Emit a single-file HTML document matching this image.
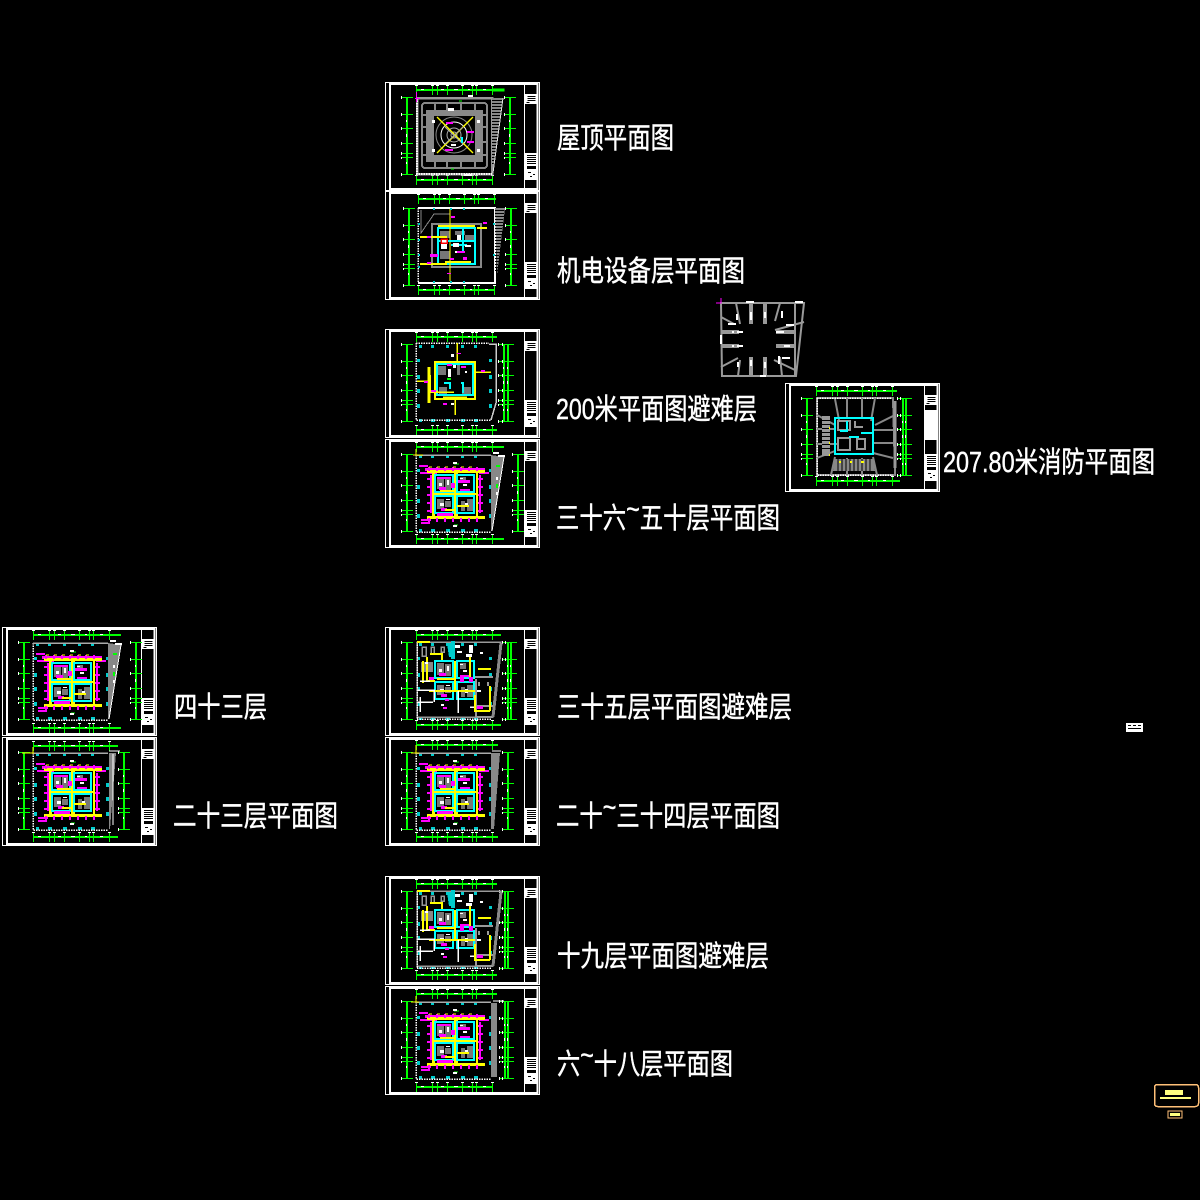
<!DOCTYPE html>
<html><head><meta charset="utf-8"><title>Plans</title>
<style>html,body{margin:0;padding:0;background:#000;width:1200px;height:1200px;overflow:hidden}
svg{display:block}
text{fill:#fff;stroke:#fff;stroke-width:.45px;font-family:"Liberation Sans","WenQuanYi Zen Hei","Noto Sans CJK SC",sans-serif;font-size:29px}</style></head>
<body>
<svg width="1200" height="1200" viewBox="0 0 1200 1200" xmlns="http://www.w3.org/2000/svg" shape-rendering="crispEdges">
<defs>
<g id="frame">
 <rect x=".5" y=".5" width="154" height="108" fill="none" stroke="#fff"/>
 <rect x="5" y="2" width="147.5" height="105" fill="none" stroke="#fff" stroke-width="1.6"/>
 <path d="M139.5 2V107" stroke="#fff"/>
 <rect x="152" y="2" width="1.5" height="105" fill="#fff"/>
 <rect x="140" y="12" width="12" height="10" fill="#fff"/>
 <path d="M142.5 14.5h8M142.5 16.5h8M142.5 18.5h8M141.5 20.5h3" stroke="#000"/>
 <rect x="140" y="71" width="12" height="27" fill="#fff"/>
 <path d="M142 73.5h9M142 75.5h9M142 77.5h9M142 79.5h9M142 81.5h9" stroke="#000"/>
 <rect x="142" y="84" width="9" height="3" fill="#000"/>
 <path d="M143 90.5h3M148 92.5h2M145 94.5h2" stroke="#000"/>
</g>
<g id="dh" fill="none">
 <rect x="31" y="0" width="76" height="2" fill="#0f0"/>
 <path d="M31.5-4V6M47.5-4V6M52.5-4V6M62.5-4V6M77.5-4V6M87.5-4V6M91.5-4V6M107.5-4V6" stroke="#0f0"/>
 <path d="M30-3.5h3M46-3.5h3M51-3.5h3M61-3.5h3M76-3.5h3M86-3.5h3M90-3.5h3M106-3.5h3M36 .5h3M56 .5h3M69 .5h4M83 .5h2M98 .5h3" stroke="#fff"/>
</g>
<g id="dv" fill="none">
 <rect x="0" y="15" width="2" height="77" fill="#0f0"/>
 <path d="M-4 15.5H7M-4 32.5H7M-4 46.5H7M-4 61.5H7M-4 71.5H7M-4 75.5H7M-4 92.5H7" stroke="#0f0"/>
 <path d="M-4.5 14v3M-4.5 31v3M-4.5 45v3M-4.5 60v3M-4.5 70v3M-4.5 75v2M-4.5 91v3M.5 52v3M.5 38v2M.5 80v2" stroke="#fff"/>
</g>
<g id="cols" fill="#0cc">
 <rect x="34" y="16" width="3" height="3"/><rect x="46" y="16" width="3" height="3"/><rect x="61" y="16" width="3" height="3"/><rect x="76" y="16" width="3" height="3"/><rect x="89" y="16" width="3" height="3"/>
 <rect x="34" y="90" width="3" height="3"/><rect x="46" y="90" width="4" height="3"/><rect x="61" y="90" width="4" height="3"/><rect x="76" y="90" width="4" height="3"/><rect x="89" y="90" width="4" height="3"/>
 <rect x="32" y="30" width="3" height="3"/><rect x="32" y="46" width="3" height="4"/><rect x="32" y="60" width="3" height="4"/><rect x="32" y="75" width="3" height="4"/>
 <rect x="104" y="30" width="3" height="3"/><rect x="104" y="46" width="3" height="4"/><rect x="104" y="60" width="3" height="4"/><rect x="104" y="75" width="3" height="4"/>
</g>
<g id="rooms">
 <path d="M52 38h7v12h-7zM52 60h7v10h-7zM60 39h6v12h-6zM75 38h6v6h-6zM76 62h4v10h-4zM82 60h6v12h-6zM60 62h6v6h-6z" fill="#777"/>
 <path d="M50 36h18v17H50zM72 36h17v17H72zM50 57h18v17H50zM72 57h17v17H72z" fill="none" stroke="#0ff" stroke-width="2"/>
 <path d="M54 44h3v3h-3zM62 41h2v5h-2zM78 45h4v2h-4zM55 64h4v3h-4zM80 64h3v4h-3zM75 39h3v1h-3zM61 60h4v1h-4z" fill="#fff"/>
 <path d="M54 48h7v3h-7zM56 69h6v3h-6zM75 50h10v2h-10z" fill="#f0f"/>
</g>
<g id="typ">
 <use href="#cols"/>
 <path d="M31 16V93H106" fill="none" stroke="#fff" stroke-width="1.5" stroke-dasharray="1.5 1"/>
 <path d="M31 16H106" stroke="#aaa" stroke-width="1.5" fill="none"/>
 <rect x="40" y="29" width="60" height="3" fill="#f0f"/>
 <path d="M34 27h9M35 34h17M94 34h10M36 81h9v-3M36 84h9" stroke="#f0f" fill="none" stroke-width="2"/>
 <rect x="42" y="31" width="58" height="3" fill="#ff0"/><rect x="42" y="77" width="58" height="3" fill="#ff0"/>
 <rect x="47" y="33" width="3" height="45" fill="#ff0"/><rect x="91" y="33" width="2" height="45" fill="#ff0"/>
 <rect x="69" y="33" width="4" height="45" fill="#ff0"/>
 <rect x="48" y="54" width="44" height="2" fill="#ff0"/>
 <rect x="45" y="36" width="2" height="38" fill="#f0f"/><rect x="94" y="36" width="2" height="38" fill="#f0f"/>
 <path d="M42 40h5M42 48h5M42 56h5M42 64h5M42 72h5M93 40h5M93 48h5M93 56h5M93 64h5M93 72h5M44 28v4M52 28v4M60 28v4M68 28v4M76 28v4M84 28v4M92 28v4M44 79v4M52 79v4M60 79v4M68 79v4M76 79v4M84 79v4M92 79v4" stroke="#f0f" stroke-width="2"/>
 <path d="M44 28h3M52 28h3M60 28h3M68 28h3M76 28h3M84 28h3" stroke="#ff0"/>
 <use href="#rooms"/>
 <path d="M52 74h16v3H52zM73 41h12v3H73zM52 38h14v2H52zM66 44h4v5h-4z" fill="#f0f"/>
 <path d="M72 66h12v2H72zM55 51h14v2H55zM60 70h9v2h-9z" fill="#ff0"/>
 <path d="M69 25h5M69 86h4" stroke="#0f0"/><path d="M68 24h4M68 87h4" stroke="#fff" stroke-width="2"/>
</g>
<g id="roof">
 <path d="M32 16H107V92H32Z" fill="none" stroke="#999" stroke-width="2.5"/>
 <path d="M32 16V92H107" fill="none" stroke="#fff" stroke-width="2" stroke-dasharray="1.5 1"/>
 <path d="M107 16L118 16L108 91Z" fill="#888"/>
 <path d="M107 18.5h10M107 21.5h10M107 24.5h10M107 27.5h9M107 30.5h9M107 33.5h9M107 36.5h8M107 39.5h8M107 42.5h8M107 45.5h7M107 48.5h7M107 51.5h7M107 54.5h6M107 57.5h6M107 60.5h6M107 63.5h5M107 66.5h5M107 69.5h5M107 72.5h4M107 75.5h4M107 78.5h3M107 81.5h3" stroke="#000"/>
 <path d="M118 16L108 91" stroke="#ddd"/>
 <rect x="37" y="21" width="65" height="65" rx="3" fill="none" stroke="#888" stroke-width="2"/>
 <path d="M41 28H98V80H41ZM49 34V73H90V34Z" fill="#888" fill-rule="evenodd"/>
 <path d="M37 33h9M37 45h9M37 60h9M37 73h9M93 33h9M93 45h9M93 60h9M93 73h9M50 21v7M62 21v7M76 21v7M90 21v7M50 80v6M62 80v6M76 80v6M90 80v6" stroke="#888" stroke-width="2"/>
 <g shape-rendering="auto" fill="none">
 <circle cx="69" cy="53" r="18" stroke="#888"/><circle cx="69" cy="53" r="13" stroke="#fff"/><circle cx="69" cy="53" r="7" stroke="#aaa"/><circle cx="69" cy="53" r="3" stroke="#aaa"/>
 <path d="M52 35L88 71M88 35L52 71" stroke="#ff0" stroke-width="1.4"/><path d="M60 45L78 62M78 45L60 62" stroke="#aaa"/></g>
 <path d="M61 40h7v2h-7zM82 49h7v2h-7zM82 59h7v2h-7zM60 67h8v2h-8z" fill="#f0f"/><rect x="76" y="55" width="2" height="6" fill="#0ff"/>
 <path d="M63 26h6v3h-6zM47 38h3v3h-3zM92 38h3v3h-3zM47 67h3v3h-3zM92 67h3v3h-3zM66 62h5v2h-5zM79 92h8v2h-8zM83 13h5v2h-5z" fill="#fff"/>
 <path d="M30 16.5h5M31.5 10v10" stroke="#f0f"/>
 <path d="M74 19h3M66 87h3" stroke="#0f0"/>
</g>
<g id="mech">
 <path d="M33 17H110V92H33" fill="none" stroke="#fff" stroke-width="2"/>
 <path d="M33 17V92" stroke="#fff" stroke-dasharray="1.5 1" stroke-width="1.5"/>
 <path d="M36 19V42L49 23H65" fill="none" stroke="#888"/>
 <path d="M110 17H120L112 84Z" fill="#888"/>
 <path d="M110 19.5h9M110 22.5h9M110 25.5h9M110 28.5h8M110 31.5h8M110 34.5h8M110 37.5h7M110 40.5h7M110 43.5h7M110 46.5h6M110 49.5h6M110 52.5h6M110 55.5h5M110 58.5h5M110 61.5h5M110 64.5h4M110 67.5h4M110 70.5h4M110 73.5h3M110 76.5h3M110 79.5h3" stroke="#000"/>
 <rect x="47" y="33" width="49" height="43" fill="none" stroke="#888" stroke-width="2"/>
 <path d="M55 40h10v7H55zM70 40h10v4H70zM80 44h9v5h-9zM55 60h10v8H55z" fill="#777"/>
 <rect x="53" y="37" width="37" height="36" fill="none" stroke="#0ff" stroke-width="2"/>
 <path d="M65 18V90" stroke="#ff0"/>
 <path d="M53 35H90M35 46H62M35 73H62M92 37h10M60 71h26" stroke="#ff0" fill="none" stroke-width="2"/>
 <path d="M53 50H90M66 54H82M78 37V62" stroke="#0ff" stroke-width="2"/>
 <rect x="56" y="48" width="6" height="4" fill="#fff" stroke="#f00" stroke-width="1.5"/>
 <path d="M56 53h6v5h-6zM68 52h6v4h-6zM80 54h6v2h-6zM70 60h8v2h-8zM72 44h4v5h-4z" fill="#fff"/>
 <path d="M66 25h4v2h-4zM98 31h4v2h-4zM42 45h4v2h-4zM45 63h8v3h-8zM42 71h4v2h-4zM72 60h8v2h-8zM65 67h4v2h-4zM78 66h4v3h-4zM62 82h4v1h-4z" fill="#f0f"/>
 <path d="M33 33h2M33 49h2M33 64h2M33 76h2M108 33h2M108 64h2M48 18h2M65 18h2M78 18h2M48 91h2M65 91h2M78 91h2" stroke="#0cc" stroke-width="2"/>
</g>
<g id="c200">
 <use href="#cols"/>
 <path d="M31 14V91H106M31 14H104" fill="none" stroke="#fff" stroke-width="1.5" stroke-dasharray="1.5 1"/>
 <path d="M106 91L111 74V15H104" fill="none" stroke="#ccc" stroke-width="1.5"/>
 <path d="M53 37h8v9h-8zM72 36h3v10h-3zM54 58h8v8h-8zM77 58h9v8h-9z" fill="#777"/>
 <rect x="50" y="33" width="40" height="37" fill="none" stroke="#ff0" stroke-width="2"/>
 <rect x="52" y="35" width="36" height="31" fill="none" stroke="#0ff" stroke-width="2"/>
 <path d="M72 14V33M90 43h16M53 62H45V46M45 63h24" stroke="#ff0" fill="none" stroke-width="1.5"/>
 <path d="M44 38v36" stroke="#ff0" stroke-width="3"/>
 <path d="M32 52H46M58 68h24M70 70V86" stroke="#ff0" stroke-width="1.5"/>
 <path d="M59 54h6V60M76 54h2V64" stroke="#0ff" fill="none" stroke-width="2"/>
 <path d="M62 35h5v2h-5zM76 37h5v2h-5zM96 41h4v2h-4zM39 52h4v2h-4zM46 61h5v2h-5zM58 74h4v2h-4zM72 24h4v1h-4z" fill="#f0f"/>
 <path d="M68 36h3v3h-3zM66 25h3v3h-3zM66 74h3v2h-3zM63 40h3v8h-3zM80 42h2v2h-2z" fill="#fff"/>
 <path d="M62 50h4" stroke="#0f0" stroke-width="2"/>
</g>
<g id="w1"><path d="M106 16L119 18L107 92H106Z" fill="#888"/><path d="M119 18L107 92" fill="none" stroke="#fff"/><path d="M108 14h6M113 17h7M112 38v3M112 53v3" stroke="#fff" stroke-width="2"/><path d="M111 27h4M112 45v4" stroke="#0f0" stroke-width="2"/></g>
<g id="f35">
 <use href="#cols"/>
 <path d="M32 15H116L108 90H32Z" fill="none" stroke="#999" stroke-width="1.5"/>
 <path d="M32 15V92M32 92H107" stroke="#fff" stroke-width="1.5" stroke-dasharray="1.5 1"/>
 <path d="M116 16L108 90" stroke="#888" stroke-width="3"/>
 <path d="M37 20h4v9h-4zM46 20h3v7h-3zM56 20h3v5h-3z" fill="none" stroke="#999" stroke-width="1.5"/>
 <path d="M62 16h4V30h-2zM66 14h4v18h-4z" fill="#0cc"/>
 <path d="M70 18h5v3h-5zM72 24h5v2h-5zM84 18h4v8h-4zM81 27h6v3h-6z" fill="#fff"/>
 <path d="M36 35h12v10h-12z" fill="#888"/>
 <use href="#rooms" transform="translate(0,-2)"/>
 <path d="M32 15H45M45 27h12V33M42 30V54M42 54h8" stroke="#ff0" fill="none" stroke-width="2"/>
 <path d="M44 64H90M85 30V50M70 34V64M52 52H70M93 42h13M38 34v22" stroke="#ff0" fill="none" stroke-width="2"/>
 <path d="M35 54h10M35 70V85M33 63h16V75M33 75h15M73 64v22M85 80h11" stroke="#fff" fill="none" stroke-width="1.5"/>
 <path d="M90 50h18M91 52v38h16M94 55v4M103 55v4M91 79h17" stroke="#999" fill="none" stroke-width="2"/>
 <path d="M90 68V84M105 59V84M89 84h16" stroke="#ff0" stroke-width="2" fill="none"/>
 <path d="M75 50h4v5h-4zM84 50h4v5h-4zM60 72h4v2h-4zM92 79h6v3h-6zM58 80h4v2h-4zM44 50h5v3h-5z" fill="#f0f"/>
 <path d="M95 26h3M56 78h3M40 36h3M92 64h4" stroke="#fff" stroke-width="2"/>
</g>
<g id="floorwide">
 <rect x="106" y="17" width="6" height="74" fill="#888"/>
 <path d="M108 15H119" stroke="#fff"/>
</g>
</defs>
<rect width="1200" height="1200" fill="#000"/>

<g transform="translate(385,82)"><use href="#frame"/><use href="#dh" y="7"/><path d="M107 7H119V9H107" fill="#0f0" stroke="#0f0"/><use href="#dh" y="97"/><use href="#dv" x="21"/><use href="#dv" x="124"/><use href="#roof"/></g>
<g transform="translate(385,191)"><use href="#frame"/><use href="#dh" x="2" y="7"/><rect x="109" y="7" width="2" height="2" fill="#0f0"/><use href="#dh" x="2" y="98"/><use href="#dv" x="23" y="2"/><use href="#dv" x="125" y="2"/><use href="#mech"/></g>
<g transform="translate(385,329)"><use href="#frame"/><use href="#dh" y="7"/><rect x="107" y="7" width="5" height="2" fill="#0f0"/><use href="#dh" y="100"/><rect x="107" y="100" width="5" height="2" fill="#0f0"/><use href="#dv" x="21"/><use href="#dv" x="118"/><use href="#dv" x="122"/><use href="#c200"/></g>
<g transform="translate(385,439)"><use href="#frame"/><use href="#dh" y="7"/><rect x="107" y="7" width="12" height="2" fill="#0f0"/><use href="#dh" y="99"/><rect x="107" y="99" width="12" height="2" fill="#0f0"/><use href="#dv" x="21"/><use href="#dv" x="132"/><use href="#typ"/><use href="#w1"/><path d="M31 16v-6M28 16h10" stroke="#ff0"/></g>
<g transform="translate(2,627)"><use href="#frame"/><use href="#dh" y="7"/><rect x="107" y="7" width="12" height="2" fill="#0f0"/><use href="#dh" y="100"/><rect x="107" y="100" width="12" height="2" fill="#0f0"/><use href="#dv" x="21"/><use href="#dv" x="133"/><use href="#typ"/><use href="#w1"/></g>
<g transform="translate(2,737)"><use href="#frame"/><use href="#dh" y="8"/><rect x="107" y="8" width="9" height="2" fill="#0f0"/><use href="#dh" y="99"/><rect x="107" y="99" width="9" height="2" fill="#0f0"/><use href="#dv" x="21"/><use href="#dv" x="121"/><use href="#typ"/><path d="M107 16H114L108 92H107Z" fill="#888"/><path d="M111 17V88M107 14H118" stroke="#fff"/><path d="M31 16v-6M20 16h12" stroke="#ff0"/></g>
<g transform="translate(385,627)"><use href="#frame"/><use href="#dh" y="7"/><rect x="107" y="7" width="9" height="2" fill="#0f0"/><use href="#dh" y="97"/><rect x="107" y="97" width="9" height="2" fill="#0f0"/><use href="#dv" x="21"/><use href="#dv" x="122"/><use href="#dv" x="125"/><use href="#f35"/></g>
<g transform="translate(385,737)"><use href="#frame"/><use href="#dh" y="7"/><rect x="107" y="7" width="6" height="2" fill="#0f0"/><use href="#dh" y="99"/><rect x="107" y="99" width="6" height="2" fill="#0f0"/><use href="#dv" x="21"/><use href="#dv" x="122"/><use href="#typ"/><path d="M106 16H115L109 92H106Z" fill="#888"/><path d="M107 14H116" stroke="#fff"/><path d="M31 16v-8M26 16h8" stroke="#ff0"/></g>
<g transform="translate(385,876)"><use href="#frame"/><use href="#dh" y="7"/><rect x="107" y="7" width="5" height="2" fill="#0f0"/><use href="#dh" y="98"/><rect x="107" y="98" width="5" height="2" fill="#0f0"/><use href="#dv" x="21"/><use href="#dv" x="119"/><use href="#dv" x="122"/><use href="#f35"/></g>
<g transform="translate(385,986)"><use href="#frame"/><use href="#dh" y="7"/><rect x="107" y="7" width="5" height="2" fill="#0f0"/><use href="#dh" y="100"/><use href="#dv" x="21"/><use href="#dv" x="119"/><use href="#dv" x="122"/><use href="#typ"/><use href="#floorwide"/><path d="M31 16v-6M26 16h8" stroke="#ff0"/></g>

<g transform="translate(785,383)">
 <use href="#frame"/>
 <rect x="140" y="27" width="12" height="30" fill="#fff"/>
 <use href="#dh" y="7"/><rect x="107" y="7" width="5" height="2" fill="#0f0"/><use href="#dh" y="97"/><rect x="107" y="97" width="8" height="2" fill="#0f0"/>
 <use href="#dv" x="21"/><use href="#dv" x="117"/><use href="#dv" x="120"/>
 <path d="M32 15H108L110 92H32Z" fill="none" stroke="#888" stroke-width="2"/>
 <path d="M32 15H107M32 15V92H108" fill="none" stroke="#fff" stroke-width="1.5" stroke-dasharray="1.5 1"/>
 <path d="M110 18V85" stroke="#999" stroke-width="3"/>
 <path d="M50 16L54 37M62 15V36M77 15V36M90 15L86 38M32 32L50 42M32 46H50M32 61H52M32 75L50 68M90 42L108 33M88 47H108M88 60H108M88 70L108 75M50 74L46 92M62 75V92M77 75V92M88 74L92 92" stroke="#888" stroke-width="2" fill="none" shape-rendering="auto"/>
 <rect x="37" y="33" width="8" height="40" fill="#999"/><path d="M37 37.5h8M37 41.5h8M37 45.5h8M37 49.5h8M37 53.5h8M37 57.5h8M37 61.5h8M37 65.5h8" stroke="#000"/>
 <path d="M53 38h12v9H53zM70 38v6h8M53 55h12v12H53zM72 56h8v10h-8z" fill="none" stroke="#999" stroke-width="2"/>
 <path d="M50 35H88V71H50Z" fill="none" stroke="#0ff" stroke-width="2"/>
 <path d="M62 47V38M55 48h8M76 50h12M64 54h10" stroke="#0ff" stroke-width="2"/>
 <path d="M50 76H88L90 88H48Z" fill="#888"/><path d="M53 76v12M57 76v12M61 76v12M65 76v12M69 76v12M73 76v12M77 76v12M81 76v12M85 76v12" stroke="#000"/>
 <path d="M54 79h2M65 79h2M76 79h3M44 45h1M44 60h1M44 72h1" stroke="#ff0" stroke-width="2"/>
</g>
<g transform="translate(720,300)" fill="none" stroke="#999" stroke-width="2" shape-rendering="auto">
 <path d="M1 3H84L76 76H2Z"/>
 <path d="M1 31H19M1 33H19M1 45H19M1 47H19M56 31H76M56 33H76M56 45H76M56 47H76M30 3V24M32 3V24M44 3V24M46 3V24M30 57V76M32 57V76M44 57V76M46 57V76"/>
 <path d="M16 3L20 24M1 17L14 24M60 3L55 21M84 22L55 30M1 67L18 58M60 57L62 76M54 60L75 70M18 76L20 60"/>
 <path d="M75 3V75"/>
</g>
<g transform="translate(720,300)" stroke="#fff" stroke-width="2" fill="none">
 <path d="M26 2h8M75 2h8M1 32h0M1 35v9M17 32h6M17 46h6M56 32h8M64 46h6M31 12v8M45 12v6M17 14v6M62 11v7M66 25h8M8 24h8M31 60v6M45 62v6M18 62v5M59 56v8M62 58h8M40 76h6M14 32h-2M12 46h2"/>
</g>
<path d="M716 303H721V298" stroke="#f0f" fill="none" stroke-width="1.2"/>

<rect x="1126" y="723" width="17" height="9" fill="#fff"/><path d="M1128 725.5h3M1133 725.5h3M1138 725.5h3M1128 728.5h13" stroke="#000"/>
<rect x="1154.5" y="1084.5" width="44" height="22" rx="3" fill="#000" stroke="#ffc078" stroke-width="1.5"/>
<rect x="1165" y="1090" width="18" height="5" fill="#ffff80"/><rect x="1160" y="1097" width="31" height="2" fill="#ffff80"/>
<rect x="1168" y="1111" width="14" height="7" fill="#000" stroke="#ffc078"/><rect x="1170" y="1113" width="10" height="3" fill="#ffff80"/>

<g shape-rendering="auto">
<text x="557" y="148" textLength="117" lengthAdjust="spacingAndGlyphs">屋顶平面图</text>
<text x="557" y="281" textLength="188" lengthAdjust="spacingAndGlyphs">机电设备层平面图</text>
<text x="556" y="419" textLength="201" lengthAdjust="spacingAndGlyphs">200米平面图避难层</text>
<text x="556" y="528" textLength="224" lengthAdjust="spacingAndGlyphs">三十六<tspan dy="-9">~</tspan><tspan dy="9">五十层平面图</tspan></text>
<text x="174" y="717" textLength="93" lengthAdjust="spacingAndGlyphs">四十三层</text>
<text x="173" y="826" textLength="165" lengthAdjust="spacingAndGlyphs">二十三层平面图</text>
<text x="557" y="717" textLength="235" lengthAdjust="spacingAndGlyphs">三十五层平面图避难层</text>
<text x="556" y="826" textLength="224" lengthAdjust="spacingAndGlyphs">二十<tspan dy="-9">~</tspan><tspan dy="9">三十四层平面图</tspan></text>
<text x="557" y="966" textLength="212" lengthAdjust="spacingAndGlyphs">十九层平面图避难层</text>
<text x="557" y="1074" textLength="176" lengthAdjust="spacingAndGlyphs">六<tspan dy="-9">~</tspan><tspan dy="9">十八层平面图</tspan></text>
<text x="943" y="472" textLength="212" lengthAdjust="spacingAndGlyphs">207.80米消防平面图</text>
</g>
</svg>
</body></html>
